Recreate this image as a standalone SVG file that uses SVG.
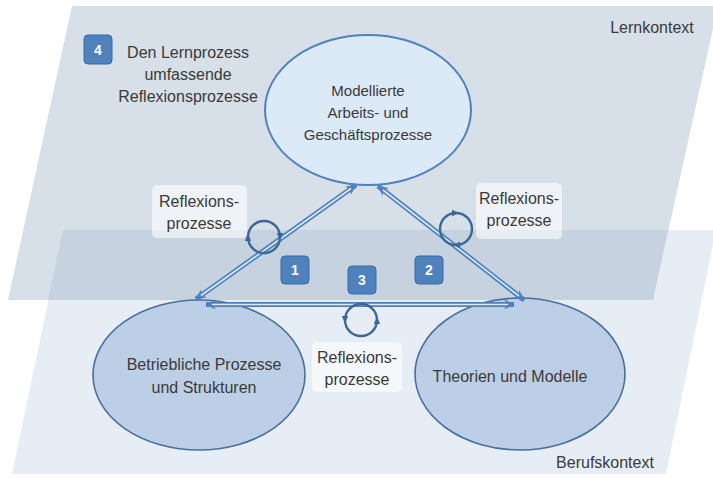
<svg xmlns="http://www.w3.org/2000/svg" width="713" height="478" viewBox="0 0 713 478">
<style>
  .t { font-family: "Liberation Sans", Arial, sans-serif; fill: #3a3a3a; text-anchor: middle; }
  .lbl { font-size: 16px; }
  .ell { font-size: 15px; }
  .num { font-family: "Liberation Sans", Arial, sans-serif; font-size: 14px; font-weight: bold; fill: #ffffff; text-anchor: middle; }
  .badge { fill: #4f81bd; stroke: #3b6a9f; stroke-width: 1; }
  .box { fill: #ffffff; fill-opacity: 0.6; }
  .shaft { fill: none; stroke: #4f81bd; stroke-width: 5; marker-start: url(#ah); marker-end: url(#ah); }
  .core { fill: none; stroke: #dfe8f3; stroke-width: 1.6; }
  .cyc { fill: none; stroke: #3d6797; stroke-width: 2.4; marker-end: url(#ch); }
</style>
<defs>
  <marker id="ah" viewBox="0 0 10 10" refX="9" refY="5" markerUnits="userSpaceOnUse" markerWidth="11" markerHeight="11" orient="auto-start-reverse">
    <path d="M0,0.5 L10,5 L0,9.5 L3,5 z" fill="#4f81bd"/>
  </marker>
  <marker id="ch" viewBox="0 0 10 10" refX="5" refY="5" markerUnits="userSpaceOnUse" markerWidth="8" markerHeight="8" orient="auto">
    <path d="M0,1 L9,5 L0,9 z" fill="#3d6797"/>
  </marker>
</defs>
<rect width="713" height="478" fill="#ffffff"/>
<g id="planes">
  <polygon id="berufskontext-plane" points="63,230 716,230 666,474 12,474" fill="#e7edf5"/>
  <polygon id="lernkontext-plane" points="72,6 718,6 653,300 8,300" fill="#d7dfe9"/>
  <polygon id="overlap" points="63,230 668,230 653,300 48,300" fill="#c6d2df"/>
</g>
<g id="node-modelliert">
  <ellipse cx="368" cy="110" rx="103" ry="75" fill="#dce9f6" stroke="#4f81bd" stroke-width="2"/>
  <text class="t ell" x="368" y="96">Modellierte</text>
  <text class="t ell" x="368" y="118">Arbeits- und</text>
  <text class="t ell" x="368" y="140">Geschäftsprozesse</text>
</g>
<g id="node-betrieblich">
  <ellipse cx="199" cy="375" rx="106" ry="75" fill="#bccfe6" stroke="#4a6f9c" stroke-width="1.6"/>
  <text class="t lbl" x="204" y="370">Betriebliche Prozesse</text>
  <text class="t lbl" x="204" y="393">und Strukturen</text>
</g>
<g id="node-theorien">
  <ellipse cx="520" cy="374" rx="105" ry="76" fill="#bccfe6" stroke="#4a6f9c" stroke-width="1.6"/>
  <text class="t lbl" x="510" y="382">Theorien und Modelle</text>
</g>
<g id="connectors">
  <path class="shaft" d="M196,299 L356,185"/>
  <path class="core" d="M201,295.5 L351,188.5"/>
  <path class="shaft" d="M378,186 L524,300"/>
  <path class="core" d="M383,190 L519,296"/>
  <path class="shaft" d="M206,304.5 L514,304.5"/>
  <path class="core" d="M212,304.5 L508,304.5"/>
</g>
<g id="reflexion-left">
  <rect class="box" x="152" y="185" width="95" height="53" rx="5"/>
  <text class="t lbl" x="199" y="207">Reflexions-</text>
  <text class="t lbl" x="199" y="229">prozesse</text>
  <path class="cyc" d="M264,221 A16,16 0 0 1 280,237"/>
  <path class="cyc" d="M264,253 A16,16 0 0 1 248,237"/>
  <path d="M280,237 A16,16 0 0 1 264,253 M248,237 A16,16 0 0 1 264,221" fill="none" stroke="#3d6797" stroke-width="2.4"/>
</g>
<g id="reflexion-right">
  <rect class="box" x="476" y="183" width="86" height="56" rx="5"/>
  <text class="t lbl" x="519" y="204">Reflexions-</text>
  <text class="t lbl" x="519" y="226">prozesse</text>
  <path class="cyc" d="M472,229 A16,16 0 0 1 456,245"/>
  <path class="cyc" d="M440,229 A16,16 0 0 1 456,213"/>
  <path d="M456,245 A16,16 0 0 1 440,229 M456,213 A16,16 0 0 1 472,229" fill="none" stroke="#3d6797" stroke-width="2.4"/>
</g>
<g id="reflexion-bottom">
  <rect class="box" x="312" y="342" width="90" height="50" rx="5" fill-opacity="0.35"/>
  <text class="t lbl" x="357" y="363">Reflexions-</text>
  <text class="t lbl" x="357" y="385">prozesse</text>
  <path class="cyc" d="M361,304 A16,16 0 0 0 345,320"/>
  <path class="cyc" d="M361,336 A16,16 0 0 0 377,320"/>
  <path d="M345,320 A16,16 0 0 0 361,336 M377,320 A16,16 0 0 0 361,304" fill="none" stroke="#3d6797" stroke-width="2.4"/>
</g>
<g id="reflexion-umfassend">
  <rect class="badge" x="84" y="35" width="28" height="29" rx="4"/>
  <text class="num" x="98" y="55">4</text>
  <text class="t lbl" x="188" y="58">Den Lernprozess</text>
  <text class="t lbl" x="188" y="80">umfassende</text>
  <text class="t lbl" x="188" y="102">Reflexionsprozesse</text>
</g>
<g id="badge-1">
  <rect class="badge" x="281" y="256" width="28" height="28" rx="4"/>
  <text class="num" x="295" y="275">1</text>
</g>
<g id="badge-2">
  <rect class="badge" x="415" y="256" width="28" height="28" rx="4"/>
  <text class="num" x="429" y="275">2</text>
</g>
<g id="badge-3">
  <rect class="badge" x="348" y="266" width="28" height="28" rx="4"/>
  <text class="num" x="362" y="285">3</text>
</g>
<g id="context-labels">
  <text class="t lbl" x="652" y="33">Lernkontext</text>
  <text class="t lbl" x="605" y="468">Berufskontext</text>
</g>
</svg>
